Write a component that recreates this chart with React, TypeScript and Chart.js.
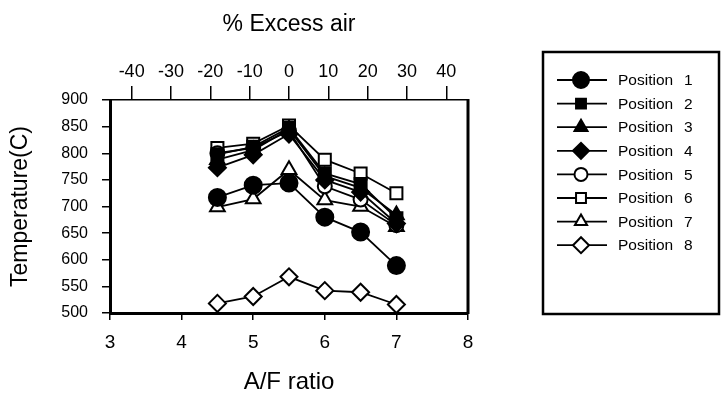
import React, { useEffect, useRef } from "react";
import { Chart, registerables } from "chart.js";
import { drawPoint } from "chart.js/helpers";

Chart.register(...registerables);

// ---- data ----
const afRatio = [4.5, 5, 5.5, 6, 6.5, 7];
const position1 = [717, 740, 744, 680, 652, 589];
const position2 = [798, 812, 848, 762, 742, 678];
const position3 = [788, 806, 845, 757, 735, 684];
const position4 = [773, 797, 836, 750, 727, 668];
const position5 = [800, 810, 842, 738, 713, 665];
const position6 = [810, 818, 852, 788, 762, 725];
const position7 = [699, 714, 769, 712, 700, 662];
const position8 = [518, 531, 568, 542, 539, 516];
const seriesLabels = [
  "Position 1",
  "Position 2",
  "Position 3",
  "Position 4",
  "Position 5",
  "Position 6",
  "Position 7",
  "Position 8",
];
const afTicks = [3, 4, 5, 6, 7, 8];
const excessAirTicks = [-40, -30, -20, -10, 0, 10, 20, 30, 40];
const tempTicks = [500, 550, 600, 650, 700, 750, 800, 850, 900];

const seriesValues = [
  position1,
  position2,
  position3,
  position4,
  position5,
  position6,
  position7,
  position8,
];

// ---- styles ----
const markerStyles = [
  { pointStyle: "circle", fill: "#000", r: 8.5, lr: 8 },
  { pointStyle: "rect", fill: "#000", r: 8.5, lr: 7 },
  { pointStyle: "triangle", fill: "#000", r: 8.5, lr: 7.5 },
  { pointStyle: "rectRot", fill: "#000", r: 8.5, lr: 8 },
  { pointStyle: "circle", fill: "#fff", r: 7, lr: 6.5 },
  { pointStyle: "rect", fill: "#fff", r: 8.5, lr: 7 },
  { pointStyle: "triangle", fill: "#fff", r: 8.5, lr: 7 },
  { pointStyle: "rectRot", fill: "#fff", r: 8.5, lr: 8 },
];

const SANS = '"Liberation Sans", Arial, sans-serif';

const legendPlugin = {
  id: "customLegend",
  afterDraw(chart: any) {
    const ctx = chart.ctx;
    const area = chart.chartArea;
    ctx.save();
    // right border of plot
    ctx.strokeStyle = "#000";
    ctx.lineWidth = 3;
    ctx.beginPath();
    ctx.moveTo(area.right, area.top - 1);
    ctx.lineTo(area.right, area.bottom + 1);
    ctx.stroke();

    // legend box
    const bx = 543;
    const by = 52;
    const bw = 176;
    const bh = 262;
    ctx.lineWidth = 2.5;
    ctx.strokeRect(bx, by, bw, bh);

    chart.data.datasets.forEach((ds: any, i: number) => {
      const y = 80 + i * 23.6;
      const st = markerStyles[i];
      ctx.strokeStyle = "#000";
      ctx.lineWidth = 1.8;
      ctx.beginPath();
      ctx.moveTo(557, y);
      ctx.lineTo(607, y);
      ctx.stroke();
      ctx.fillStyle = st.fill;
      ctx.strokeStyle = "#000";
      ctx.lineWidth = 2;
      drawPoint(ctx, { pointStyle: st.pointStyle, radius: st.lr, rotation: 0, borderWidth: 2 } as any, 581, y);
      const [word, num] = String(ds.label).split(" ");
      ctx.fillStyle = "#000";
      ctx.font = `15.5px ${SANS}`;
      ctx.textBaseline = "middle";
      ctx.textAlign = "left";
      ctx.fillText(word, 618, y + 1);
      ctx.fillText(num, 684, y + 1);
    });
    ctx.restore();
  },
};

export default function App() {
  const ref = useRef<HTMLCanvasElement | null>(null);

  useEffect(() => {
    if (!ref.current) return;
    const datasets = seriesValues.map((vals, i) => {
      const st = markerStyles[i];
      return {
        label: seriesLabels[i],
        data: afRatio.map((x, j) => ({ x, y: vals[j] })),
        borderColor: "#000",
        borderWidth: 1.8,
        pointStyle: st.pointStyle as any,
        pointRadius: st.r,
        pointBackgroundColor: st.fill,
        pointBorderColor: "#000",
        pointBorderWidth: 2,
        tension: 0,
        xAxisID: "x",
        yAxisID: "y",
      };
    });

    const chart = new Chart(ref.current, {
      type: "line",
      data: { datasets },
      options: {
        animation: false,
        responsive: false,
        layout: { padding: { left: 0, top: 0, right: 253, bottom: 0 } },
        plugins: { legend: { display: false }, tooltip: { enabled: false } },
        scales: {
          x: {
            type: "linear",
            position: "bottom",
            min: 3,
            max: 8,
            afterBuildTicks: (s: any) => {
              s.ticks = afTicks.map((v) => ({ value: v }));
            },
            afterFit: (s: any) => {
              s.height = 88;
            },
            ticks: { color: "#000", font: { family: SANS, size: 19 }, padding: 11 },
            grid: { drawOnChartArea: false, tickLength: 7, color: "#000", lineWidth: 1.5 },
            border: { display: true, width: 3, color: "#000" },
            title: {
              display: true,
              text: "A/F ratio",
              color: "#000",
              font: { family: SANS, size: 24 },
              padding: { top: 4, bottom: 4 },
            },
          },
          x2: {
            type: "linear",
            position: "top",
            min: -45.5,
            max: 45.5,
            afterBuildTicks: (s: any) => {
              s.ticks = excessAirTicks.map((v) => ({ value: v }));
            },
            afterFit: (s: any) => {
              s.height = 100;
            },
            ticks: { color: "#000", font: { family: SANS, size: 18 }, padding: 3 },
            grid: { drawOnChartArea: false, tickLength: 14, color: "#000", lineWidth: 1.5 },
            border: { display: true, width: 1.5, color: "#000" },
            title: {
              display: true,
              text: "% Excess air",
              color: "#000",
              font: { family: SANS, size: 23 },
              padding: { top: 11, bottom: 4 },
            },
          },
          y: {
            type: "linear",
            position: "left",
            min: 500,
            max: 900,
            afterBuildTicks: (s: any) => {
              s.ticks = tempTicks.map((v) => ({ value: v }));
            },
            afterFit: (s: any) => {
              s.width = 110;
            },
            ticks: { color: "#000", font: { family: SANS, size: 16 }, padding: 14 },
            grid: { drawOnChartArea: false, tickLength: 8, color: "#000", lineWidth: 1.5 },
            border: { display: true, width: 3, color: "#000" },
            title: {
              display: true,
              text: "Temperature(C)",
              color: "#000",
              font: { family: SANS, size: 23 },
              padding: { top: 7, bottom: 4 },
            },
          },
        },
      },
      plugins: [legendPlugin],
    });
    return () => chart.destroy();
  }, []);

  return (
    <div style={{ position: "fixed", left: 0, top: 0, width: 721, height: 401, background: "#fff" }}>
      <canvas ref={ref} width={721} height={401} style={{ display: "block" }} />
    </div>
  );
}
